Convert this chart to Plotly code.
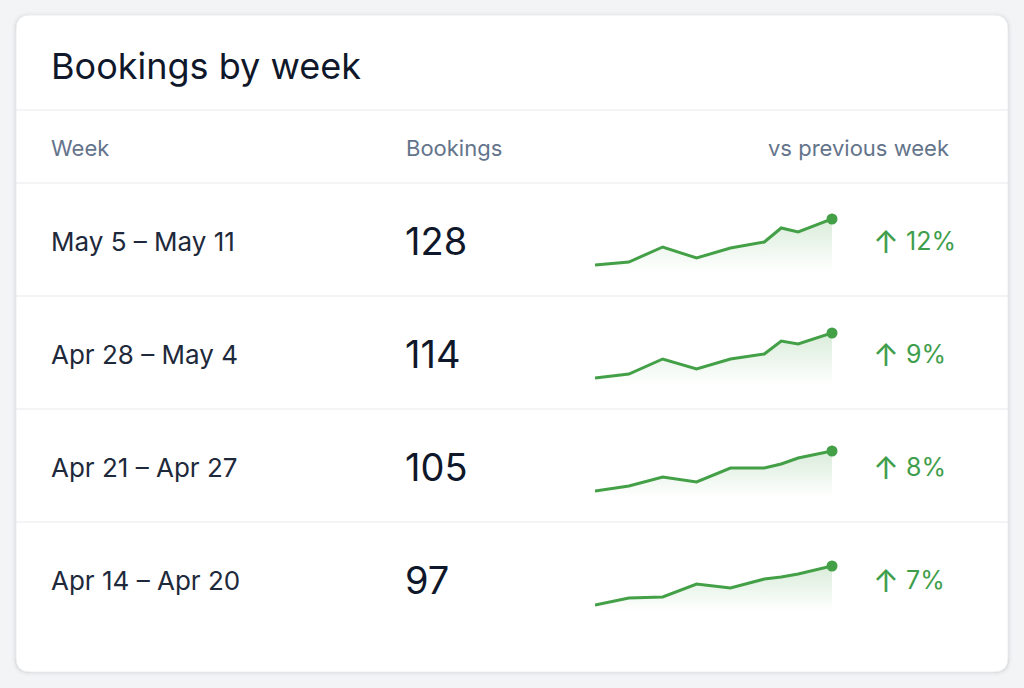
import plotly.graph_objects as go

# table content
weeks = ["May 5 – May 11", "Apr 28 – May 4", "Apr 21 – Apr 27", "Apr 14 – Apr 20"]
bookings = [128, 114, 105, 97]
change_pct = [12, 9, 8, 7]

# sparkline points (same time positions for every week)
spark_x = [0, 2, 4, 6, 8, 10, 11, 12, 14]
spark_values = [
    [7, 10, 25, 14, 24, 30, 44, 40, 53],
    [7, 11, 26, 16, 26, 31, 44, 41, 52],
    [7, 12, 21, 16, 30, 30, 34, 40, 47],
    [6, 13, 14, 27, 23, 32, 34, 37, 45],
]

W, H = 1024, 688
GREEN = "#43a047"
FONT = "Inter"


def rounded_rect(x0, y0, x1, y1, r):
    return (f"M{x0+r},{y0} L{x1-r},{y0} Q{x1},{y0} {x1},{y0+r} "
            f"L{x1},{y1-r} Q{x1},{y1} {x1-r},{y1} L{x0+r},{y1} "
            f"Q{x0},{y1} {x0},{y1-r} L{x0},{y0+r} Q{x0},{y0} {x0+r},{y0} Z")


fig = go.Figure()
shapes = []
annotations = []

# card with a soft shadow
for off, alpha in [(4, 0.025), (2, 0.035), (1, 0.05)]:
    shapes.append(dict(type="path", xref="x", yref="y", layer="below",
                       path=rounded_rect(16 - off, 15 - off + 1, 1008 + off, 672 + off, 14 + off),
                       fillcolor=f"rgba(15,23,42,{alpha})", line_width=0))
shapes.append(dict(type="path", xref="x", yref="y", layer="below",
                   path=rounded_rect(16, 15, 1008, 672, 14),
                   fillcolor="white", line=dict(color="#eceef1", width=1)))

# dividers
for yy in [110, 183, 296, 409, 522]:
    shapes.append(dict(type="line", xref="x", yref="y", layer="below",
                       x0=16, x1=1008, y0=yy, y1=yy,
                       line=dict(color="#e8eaee", width=1.2)))

annotations.append(dict(x=49, y=66, text="Bookings by week",
                        font=dict(family=FONT, size=36, color="#0f172a")))

header_font = dict(family=FONT, size=22, color="#64748b")
annotations.append(dict(x=49, y=148, text="Week", font=header_font))
annotations.append(dict(x=404, y=148, text="Bookings", font=header_font))
annotations.append(dict(x=951, y=148, text="vs previous week", font=header_font, xanchor="right"))

layout_axes = {}
for i, (wk, b, pct, vals) in enumerate(zip(weeks, bookings, change_pct, spark_values)):
    top = 183 + 113 * i
    cy = top + 58
    annotations.append(dict(x=49, y=cy, text=wk,
                            font=dict(family=FONT, size=26, color="#1e293b")))
    annotations.append(dict(x=403, y=cy, text=str(b),
                            font=dict(family=FONT, size=38, color="#0f172a")))
    # arrow and percentage
    annotations.append(dict(x=871, y=cy, text="↑",
                            font=dict(family=FONT, size=31, color="#3f9e4b")))
    annotations.append(dict(x=904, y=cy, text=f"{pct}%",
                            font=dict(family=FONT, size=25, color="#3f9e4b")))

    n = i + 2
    xa, ya = f"x{n}", f"y{n}"
    fig.add_trace(go.Scatter(
        x=spark_x, y=vals, xaxis=xa, yaxis=ya, mode="lines",
        line=dict(color=GREEN, width=3), fill="tozeroy",
        fillgradient=dict(type="vertical",
                          colorscale=[[0, "rgba(67,160,71,0.0)"], [1, "rgba(67,160,71,0.2)"]]),
        hoverinfo="skip", showlegend=False, cliponaxis=False))
    fig.add_trace(go.Scatter(
        x=[spark_x[-1]], y=[vals[-1]], xaxis=xa, yaxis=ya, mode="markers",
        marker=dict(color=GREEN, size=11), hoverinfo="skip",
        showlegend=False, cliponaxis=False))

    bottom_px, top_px = top + 89, top + 33
    layout_axes[f"xaxis{n}"] = dict(domain=[595 / W, 832 / W], range=[0, 14], visible=False,
                                    anchor=ya, fixedrange=True)
    layout_axes[f"yaxis{n}"] = dict(domain=[1 - bottom_px / H, 1 - top_px / H], range=[0, 56],
                                    visible=False, anchor=xa, fixedrange=True)

for a in annotations:
    a.setdefault("xref", "x")
    a.setdefault("yref", "y")
    a.setdefault("showarrow", False)
    a.setdefault("xanchor", "left")
    a.setdefault("yanchor", "middle")

fig.update_layout(
    width=W, height=H,
    margin=dict(l=0, r=0, t=0, b=0),
    paper_bgcolor="#f3f4f6", plot_bgcolor="rgba(0,0,0,0)",
    xaxis=dict(range=[0, W], domain=[0, 1], visible=False, fixedrange=True),
    yaxis=dict(range=[H, 0], domain=[0, 1], visible=False, fixedrange=True),
    shapes=shapes, annotations=annotations, showlegend=False,
    **layout_axes,
)

fig.write_html("out.html", config={"displayModeBar": False},
               post_script="document.body.style.margin='0';document.body.style.background='#f3f4f6';")
